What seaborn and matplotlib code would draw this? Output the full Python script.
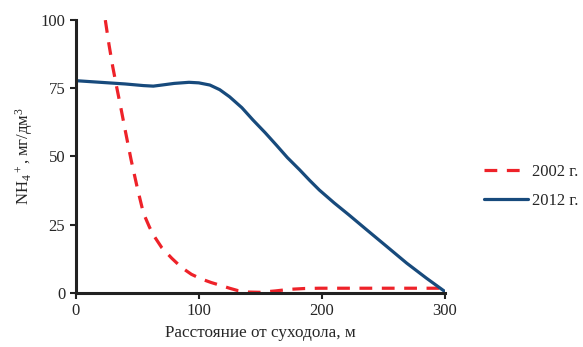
"""Содержание NH4+ в зависимости от расстояния от суходола."""

import pandas as pd
import matplotlib
matplotlib.use("Agg")
import matplotlib.pyplot as plt
import seaborn as sns


# ====== Данные ======
x_2002 = [24, 27, 30, 33, 37, 40, 45, 50, 55, 60, 64, 70, 78, 86, 94, 102,
          110, 118, 125, 132, 140, 150, 162, 174, 186, 198, 250, 300]
y_2002 = [100, 91, 83, 76, 67, 60, 48.7, 38.5, 29.2, 24, 20.6, 16.5, 12.7, 9.3, 6.8, 5.1,
          3.8, 2.7, 1.7, 0.8, 0.3, 0.2, 0.7, 1.3, 1.6, 1.7, 1.7, 1.7]

x_2012 = [0, 20, 40, 55, 63, 70, 80, 92, 100, 109, 117, 125, 135, 144, 154, 163,
          172, 182, 190, 198, 210, 222, 236, 252, 269, 285, 300]
y_2012 = [77.8, 77.2, 76.6, 76.0, 75.8, 76.2, 76.8, 77.2, 77.0, 76.2, 74.5, 71.9, 67.9,
          63.4, 58.7, 54.2, 49.6, 45.1, 41.3, 37.7, 33.0, 28.6, 23.3, 17.3, 10.9, 5.4, 0.5]

labels = ["2002 г.", "2012 г."]
x_ticks = [0, 100, 200, 300]
y_ticks = [0, 25, 50, 75, 100]


def main():
    sns.set_style("ticks")
    plt.rcParams["font.family"] = ["Liberation Serif", "DejaVu Serif"]
    plt.rcParams["mathtext.fontset"] = "custom"
    plt.rcParams["mathtext.rm"] = "Liberation Serif"
    plt.rcParams["mathtext.it"] = "Liberation Serif"

    fig = plt.figure(figsize=(5.83, 3.47), dpi=100)
    ax = fig.add_axes([0.130, 0.156, 0.633, 0.786])

    df1 = pd.DataFrame({"x": x_2002, "y": y_2002})
    df2 = pd.DataFrame({"x": x_2012, "y": y_2012})

    sns.lineplot(data=df1, x="x", y="y", ax=ax, color="#ee2229", lw=2.3,
                 linestyle=(0, (4, 3)), label=labels[0], sort=False)
    sns.lineplot(data=df2, x="x", y="y", ax=ax, color="#174a7c", lw=2.3,
                 label=labels[1], sort=False)

    ax.set_xlim(0, 300)
    ax.set_ylim(0, 100)
    ax.set_xticks(x_ticks)
    ax.set_yticks(y_ticks)
    ax.tick_params(labelsize=12, width=1.5, length=4, color="#222222")
    for side in ["left", "bottom"]:
        ax.spines[side].set_linewidth(2.2)
        ax.spines[side].set_color("#222222")
    sns.despine(ax=ax)

    ax.set_xlabel("Расстояние от суходола, м", fontsize=12.3)
    ax.set_ylabel("NH$_4$$^+$, мг/дм$^3$", fontsize=12)

    ax.legend(loc="center left", bbox_to_anchor=(1.08, 0.39), frameon=False,
              fontsize=12, handlelength=2.6, labelspacing=0.8, handletextpad=0.25,
              borderaxespad=0.2)

    fig.savefig("out.png", dpi=100)


if __name__ == "__main__":
    main()
